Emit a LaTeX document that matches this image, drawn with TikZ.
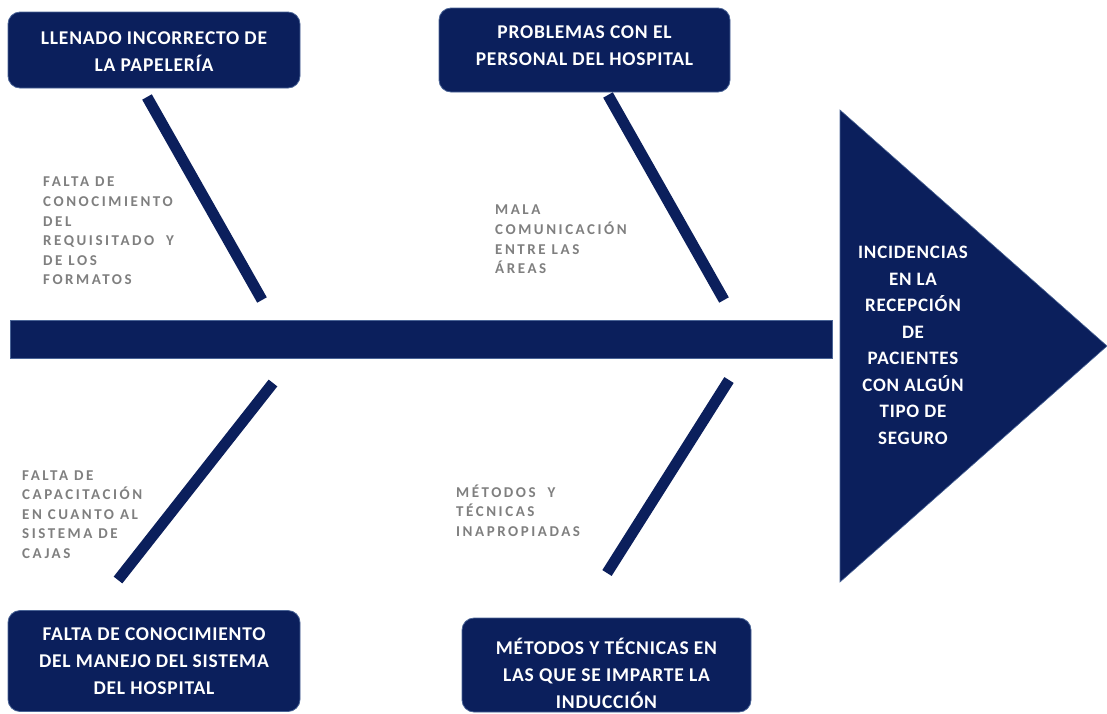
\documentclass[tikz,border=0pt]{standalone}
\usepackage{fontspec}
\setmainfont{Carlito}
\newfontfamily\grayfont[LetterSpace=17]{Carlito}
\newfontfamily\whitefont[LetterSpace=4]{Carlito}
\definecolor{navy}{HTML}{0B1F5C}
\definecolor{navyedge}{HTML}{4A6496}
\definecolor{labelgray}{HTML}{7F7F7F}
\begin{document}
\begin{tikzpicture}[x=1pt,y=-1pt,
  box/.style={fill=navy,draw=navyedge,line width=0.8pt,rounded corners=12pt,inner sep=0pt},
  boxtext/.style={text=white,align=center,font=\whitefont\bfseries\fontsize{19.5}{27}\selectfont,inner sep=0pt},
  graytext/.style={text=labelgray,align=left,anchor=west,inner sep=0pt,font=\grayfont\bfseries\fontsize{15}{19.6}\selectfont},
  bone/.style={draw=navy,line width=11pt},
]
\useasboundingbox (0,0) rectangle (1107,713);
% spine
\node[fill=navy,draw=navyedge,line width=0.6pt,minimum width=822pt,minimum height=38pt,inner sep=0pt] (spine) at (421,339) {};
% head
\coordinate (h1) at (840,110);
\coordinate (h2) at (1107,346);
\coordinate (h3) at (840,582);
\fill[navy,draw=navyedge,line width=0.6pt] (h1) -- (h2) -- (h3) -- cycle;
\node[text=white,align=center,inner sep=0pt,font=\whitefont\bfseries\fontsize{19}{26.5}\selectfont] (effect) at (913,345.5)
 {INCIDENCIAS\\EN LA\\RECEPCIÓN\\DE\\PACIENTES\\CON ALGÚN\\TIPO DE\\SEGURO};
% boxes
\node[box,minimum width=292pt,minimum height=76pt] (b1) at (154,50) {};
\node[boxtext] (t1) at (154,51.5) {LLENADO INCORRECTO DE\\LA PAPELERÍA};
\node[box,minimum width=291pt,minimum height=84pt] (b2) at (584.5,50) {};
\node[boxtext] (t2) at (584.5,45.5) {PROBLEMAS CON EL\\PERSONAL DEL HOSPITAL};
\node[box,minimum width=292pt,minimum height=101pt] (b3) at (154,661) {};
\node[boxtext] (t3) at (154,661) {FALTA DE CONOCIMIENTO\\DEL MANEJO DEL SISTEMA\\DEL HOSPITAL};
\node[box,minimum width=289pt,minimum height=94pt] (b4) at (606.5,665) {};
\node[boxtext] (t4) at (606.5,673) {MÉTODOS Y TÉCNICAS EN\\LAS QUE SE IMPARTE LA\\INDUCCIÓN};
% bones
\coordinate (a1) at (147,97);  \coordinate (a2) at (262,300);
\coordinate (c1) at (608,95);  \coordinate (c2) at (724,300);
\coordinate (d1) at (273,383); \coordinate (d2) at (118,580);
\coordinate (e1) at (729,380); \coordinate (e2) at (607,573);
\draw[bone] (a1) -- (a2);
\draw[bone] (c1) -- (c2);
\draw[bone] (d1) -- (d2);
\draw[bone] (e1) -- (e2);
% cause labels
\node[graytext] (l1) at (43,231) {FALTA DE\\CONOCIMIENTO\\DEL\\REQUISITADO~~Y\\DE LOS\\FORMATOS};
\node[graytext] (l2) at (495,239.5) {MALA\\COMUNICACIÓN\\ENTRE LAS\\ÁREAS};
\node[graytext] (l3) at (22,514.5) {FALTA DE\\CAPACITACIÓN\\EN CUANTO AL\\SISTEMA DE\\CAJAS};
\node[graytext] (l4) at (456,510.5) {MÉTODOS~~Y\\TÉCNICAS\\INAPROPIADAS};
\end{tikzpicture}
\end{document}
